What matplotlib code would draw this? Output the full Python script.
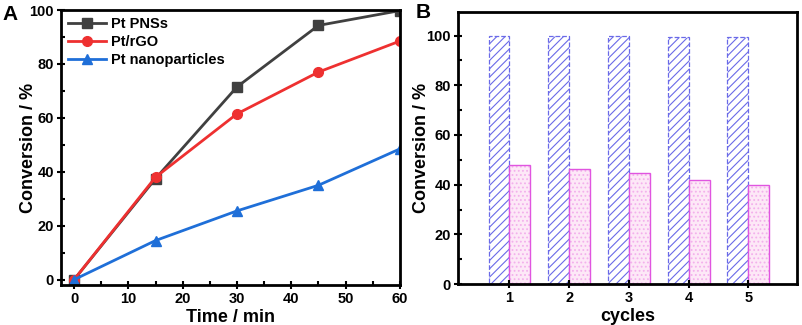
import matplotlib
matplotlib.use("Agg")
import matplotlib.pyplot as plt
import numpy as np
from matplotlib.ticker import MultipleLocator

plt.rcParams['font.family'] = ['Liberation Sans', 'DejaVu Sans']
plt.rcParams['font.weight'] = 'bold'
plt.rcParams['hatch.linewidth'] = 0.8

# panel A data
time = [0, 15, 30, 45, 60]
pnss = [0, 37.5, 71.5, 94.3, 99.8]
rgo = [0, 38, 61.5, 77, 88.5]
nanop = [0, 14.5, 25.5, 35, 48.5]

# panel B data
cycles = [1, 2, 3, 4, 5]
conv_pnss = [99.8, 100, 99.8, 99.6, 99.4]
conv_other = [48, 46.5, 44.8, 41.8, 40]

fig = plt.figure(figsize=(8.03, 3.25), dpi=100)
axA = fig.add_axes([0.076, 0.123, 0.422, 0.846])
axB = fig.add_axes([0.570, 0.126, 0.423, 0.837])

axA.plot(time, pnss, '-s', color='#404040', lw=2, ms=7, label='Pt PNSs')
axA.plot(time, rgo, '-o', color='#ee3030', lw=2, ms=7, label='Pt/rGO')
axA.plot(time, nanop, '-^', color='#1f6fd8', lw=2, ms=7, label='Pt nanoparticles')
axA.set_xlim(-2.4, 60)
axA.set_ylim(-2, 100)
axA.xaxis.set_major_locator(MultipleLocator(10))
axA.xaxis.set_minor_locator(MultipleLocator(5))
axA.yaxis.set_major_locator(MultipleLocator(20))
axA.yaxis.set_minor_locator(MultipleLocator(10))
axA.set_xlabel('Time / min', fontsize=13, fontweight='bold')
axA.set_ylabel('Conversion / %', fontsize=13, fontweight='bold')
axA.xaxis.set_label_coords(0.5, -0.086)
axA.yaxis.set_label_coords(-0.071, 0.5)
axA.legend(loc='upper left', frameon=False, fontsize=10.5, handlelength=2.6,
           borderaxespad=0.1, labelspacing=0.25, handletextpad=0.3)
fig.text(0.003, 0.94, 'A', fontsize=15, fontweight='bold')

w = 0.35
x = np.array(cycles)
axB.bar(x - w/2, conv_pnss, w, facecolor='white', edgecolor='#6a6ae8',
        hatch='////', linestyle='--', linewidth=0.9)
axB.bar(x + w/2, conv_other, w, facecolor='#fde8f7', edgecolor='#f3b0ec',
        hatch='....', linewidth=0)
axB.bar(x + w/2, conv_other, w, facecolor='none', edgecolor='#e055e0',
        linewidth=1.0)
axB.set_xlim(0.133, 5.82)
axB.set_ylim(0, 109.5)
axB.set_xticks(cycles)
axB.yaxis.set_major_locator(MultipleLocator(20))
axB.yaxis.set_minor_locator(MultipleLocator(10))
axB.set_xlabel('cycles', fontsize=13, fontweight='bold')
axB.set_ylabel('Conversion / %', fontsize=13, fontweight='bold')
axB.xaxis.set_label_coords(0.5, -0.088)
axB.yaxis.set_label_coords(-0.082, 0.5)
fig.text(0.517, 0.945, 'B', fontsize=15, fontweight='bold')

for ax in (axA, axB):
    for s in ax.spines.values():
        s.set_linewidth(2)
    ax.tick_params(which='major', direction='inout', length=6, width=1.5,
                   labelsize=10.5, pad=2)
    ax.tick_params(which='minor', direction='in', length=3, width=1.5)
    for lab in ax.get_xticklabels() + ax.get_yticklabels():
        lab.set_fontweight('bold')

fig.savefig('out.png', dpi=100)
